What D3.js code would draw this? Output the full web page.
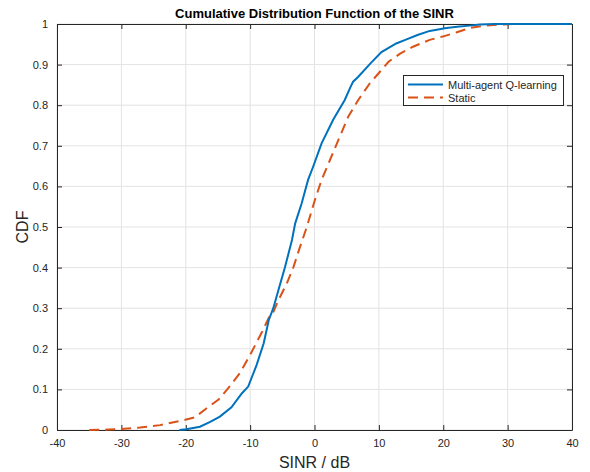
<!DOCTYPE html>
<html><head><meta charset="utf-8">
<script src="https://cdn.jsdelivr.net/npm/d3@7"></script>
<style>body{margin:0;background:#fff}svg{display:block}text{font-family:"Liberation Sans",Arial,Helvetica,sans-serif}</style>
</head><body><svg id="c" width="590" height="472"></svg>
<script>
const title = "Cumulative Distribution Function of the SINR";
const xLabel = "SINR / dB";
const yLabel = "CDF";
const seriesNames = ["Multi-agent Q-learning", "Static"];
const xTicks = [-40,-30,-20,-10,0,10,20,30,40];
const yTicks = [0,0.1,0.2,0.3,0.4,0.5,0.6,0.7,0.8,0.9,1];
const qlearning = [[-21,0],[-19.9,0.002],[-17.8,0.008],[-16.2,0.02],[-14.7,0.033],[-12.9,0.056],[-11.3,0.09],[-10.3,0.107],[-9.0,0.16],[-7.9,0.213],[-7.1,0.271],[-6.4,0.30],[-5.6,0.345],[-4.6,0.40],[-3.5,0.468],[-3.0,0.509],[-2.0,0.558],[-1.0,0.616],[-0.2,0.649],[1.1,0.706],[2.9,0.764],[4.7,0.813],[5.6,0.845],[6.0,0.858],[6.8,0.870],[8.7,0.903],[10.4,0.931],[12.7,0.952],[14.3,0.962],[16,0.973],[17.9,0.983],[20.5,0.99],[22.5,0.994],[24.1,0.996],[25.7,0.999],[28,1],[40,1]];
const staticS = [[-35,0],[-32,0.001],[-30.2,0.002],[-27.1,0.006],[-24,0.012],[-20.9,0.022],[-18.6,0.031],[-16.8,0.053],[-14.9,0.075],[-13.4,0.103],[-11.6,0.140],[-10,0.185],[-8.2,0.240],[-6.9,0.283],[-6.4,0.29],[-5.6,0.32],[-4.3,0.361],[-3.3,0.40],[-2.25,0.451],[-1.2,0.50],[0.07,0.567],[1.1,0.616],[2.4,0.665],[3.7,0.714],[5.25,0.772],[6.8,0.813],[8.6,0.854],[10.2,0.883],[11.5,0.907],[13.3,0.927],[15.3,0.944],[17.9,0.961],[19.9,0.969],[22,0.979],[24.1,0.99],[26,0.995],[28.3,0.998],[30.9,1],[40,1]];

const svg = d3.select("#c");
const L=57,R=572,T=24,B=430;
const x = d3.scaleLinear().domain([-40,40]).range([L,R]);
const y = d3.scaleLinear().domain([0,1]).range([B,T]);
const axisCol="#262626", gridCol="#e3e3e3";

// grid
svg.append("g").selectAll("line").data(xTicks).join("line")
 .attr("x1",d=>x(d)).attr("x2",d=>x(d)).attr("y1",T).attr("y2",B).attr("stroke",gridCol).attr("stroke-width",1);
svg.append("g").selectAll("line").data(yTicks).join("line")
 .attr("y1",d=>y(d)).attr("y2",d=>y(d)).attr("x1",L).attr("x2",R).attr("stroke",gridCol).attr("stroke-width",1);

// axes
const tl=5;
const fmt = d=>String(d);
const gx = svg.append("g").attr("transform",`translate(0,${B})`)
 .call(d3.axisBottom(x).tickValues(xTicks).tickSizeInner(-tl).tickSizeOuter(0).tickPadding(9).tickFormat(fmt));
const gxt = svg.append("g").attr("transform",`translate(0,${T})`)
 .call(d3.axisTop(x).tickValues(xTicks).tickSizeInner(-tl).tickSizeOuter(0).tickFormat(""));
const gy = svg.append("g").attr("transform",`translate(${L},0)`)
 .call(d3.axisLeft(y).tickValues(yTicks).tickSizeInner(-tl).tickSizeOuter(0).tickPadding(9).tickFormat(fmt));
const gyr = svg.append("g").attr("transform",`translate(${R},0)`)
 .call(d3.axisRight(y).tickValues(yTicks).tickSizeInner(-tl).tickSizeOuter(0).tickFormat(""));
[gx,gxt,gy,gyr].forEach(g=>{
  g.select(".domain").attr("stroke",axisCol).attr("stroke-width",1);
  g.selectAll(".tick line").attr("stroke",axisCol);
  g.selectAll("text").attr("fill",axisCol).style("font-size","11px").style("font-family","'Liberation Sans',Arial,sans-serif");
});

// lines
const line = d3.line().x(d=>x(d[0])).y(d=>y(d[1]));
svg.append("path").datum(staticS).attr("d",line).attr("fill","none").attr("stroke","#D95319").attr("stroke-width",2).attr("stroke-dasharray","10,6");
svg.append("path").datum(qlearning).attr("d",line).attr("fill","none").attr("stroke","#0072BD").attr("stroke-width",2);

// title & labels
svg.append("text").attr("x",(L+R)/2).attr("y",18).attr("text-anchor","middle").style("font-weight","bold").style("font-size","13px").attr("fill","#000").text(title);
svg.append("text").attr("x",(L+R)/2).attr("y",468).attr("text-anchor","middle").style("font-size","16px").attr("fill",axisCol).text(xLabel);
svg.append("text").attr("transform",`translate(28,${(T+B)/2}) rotate(-90)`).attr("text-anchor","middle").style("font-size","16px").attr("fill",axisCol).text(yLabel);

// legend
const lg = svg.append("g");
lg.append("rect").attr("x",403.5).attr("y",75.5).attr("width",160).attr("height",30).attr("fill","#fff").attr("stroke",axisCol).attr("stroke-width",1);
const cols=["#0072BD","#D95319"], dash=[null,"10,6"];
seriesNames.forEach((n,i)=>{
  const yy=84.5+i*13;
  lg.append("line").attr("x1",408).attr("x2",443).attr("y1",yy).attr("y2",yy).attr("stroke",cols[i]).attr("stroke-width",2).attr("stroke-dasharray",dash[i]);
  lg.append("text").attr("x",448).attr("y",yy+4).style("font-size","11px").attr("fill",axisCol).text(n);
});
</script></body></html>
